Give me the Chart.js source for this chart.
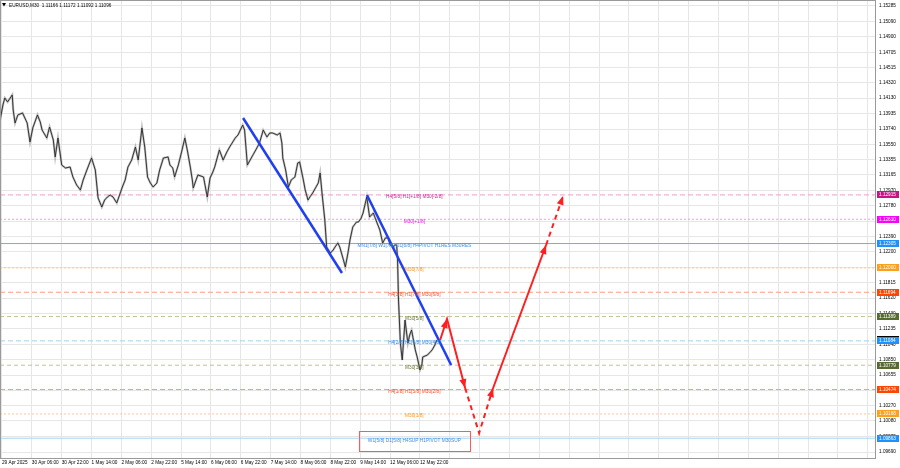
<!DOCTYPE html>
<html>
<head>
  <title>EURUSD,M30</title>
  <script src="https://cdn.jsdelivr.net/npm/chart.js"></script>
  <style>
    html, body { margin: 0; padding: 0; background: #fff; }
  </style>
</head>
<body>
<canvas id="priceChart" width="900" height="468"></canvas>
<script>
// time axis is in trading hours, 0 = 29 Apr 14:00
const timeTicks = [0, 16, 32, 48, 64, 80, 96, 112, 128, 144, 160, 176, 192, 208, 224];
const timeLabels = ['29 Apr 2025', '30 Apr 06:00', '30 Apr 22:00', '1 May 14:00', '2 May 06:00', '2 May 22:00',
  '5 May 14:00', '6 May 06:00', '6 May 22:00', '7 May 14:00', '8 May 06:00', '8 May 22:00',
  '9 May 14:00', '12 May 06:00', '12 May 22:00'];
const priceTicks = [1.15285, 1.15090, 1.14900, 1.14705, 1.14515, 1.14320, 1.14130, 1.13935, 1.13740, 1.13550,
  1.13355, 1.13165, 1.12970, 1.12780, 1.12585, 1.12390, 1.12200, 1.12005, 1.11815, 1.11620,
  1.11430, 1.11235, 1.11040, 1.10850, 1.10655, 1.10460, 1.10270, 1.10080, 1.09885, 1.09690];

const barHours = [
  -1, 0.5, 1.5, 3, 5.5, 6, 7, 8.5, 11, 13.5,
  15, 16.5, 19, 20.5, 21.5, 24, 25.5, 27.5, 28.5, 30,
  32, 34, 36.5, 38, 40, 42, 43.5, 45.5, 48, 50,
  51.5, 53.5, 55, 56.5, 58, 59.5, 61.5, 63, 64.5, 66,
  67.5, 69.5, 71.5, 73, 75, 76.5, 78, 79.5, 81, 83,
  84.5, 86.5, 89, 90, 91.5, 92.5, 94.5, 96.5, 98, 99.5,
  101, 102, 102.5, 104, 105, 108, 110, 111.5, 113, 114,
  116.5, 118.5, 120.5, 122, 125, 126.5, 128.5, 129, 130, 131.5,
  133, 134.5, 136, 138, 140, 142, 143.5, 145, 147.5, 149,
  150, 150.5, 152, 153.5, 155, 157, 158.5, 159.5, 161.5, 162.5,
  164, 165, 166.5, 169.5, 170.5, 171.5, 173, 174, 176, 177.5,
  178.5, 180, 181, 183, 184, 185.5, 186.5, 188, 190, 191,
  192.5, 193.5, 194.5, 195.5, 197, 199, 201, 202.5, 204, 205.5,
  207, 208, 209.5, 210.5, 211.5, 212, 212.5, 213.5, 214.5, 216,
  217.5, 218.5, 219.5, 220.5, 221.5, 222.5, 224, 225, 225.5, 228,
  229.5, 230.5, 232, 233];
const barClose = [
  1.13855, 1.14043, 1.14131, 1.14081, 1.14169, 1.13980, 1.13817, 1.13918, 1.13943, 1.13817,
  1.13579, 1.13755, 1.13918, 1.13830, 1.13729, 1.13629, 1.13767, 1.13604, 1.13391, 1.13629,
  1.13290, 1.13253, 1.13265, 1.13140, 1.13039, 1.12977, 1.13102, 1.13228, 1.13378, 1.13228,
  1.12876, 1.12763, 1.12851, 1.12889, 1.12914, 1.12889, 1.12814, 1.12914, 1.13014, 1.13102,
  1.13265, 1.13353, 1.13516, 1.13353, 1.13755, 1.13516, 1.13140, 1.13065, 1.13014, 1.13065,
  1.13228, 1.13378, 1.13391, 1.13290, 1.13253, 1.13140, 1.13290, 1.13479, 1.13629, 1.13453,
  1.13253, 1.13102, 1.13002, 1.13102, 1.13165, 1.13140, 1.12889, 1.13127, 1.13203, 1.13265,
  1.13479, 1.13353, 1.13453, 1.13516, 1.13629, 1.13667, 1.13767, 1.13792, 1.13729, 1.13290,
  1.13353, 1.13416, 1.13479, 1.13566, 1.13729, 1.13642, 1.13692, 1.13692, 1.13667, 1.13692,
  1.13566, 1.13378, 1.13228, 1.13014, 1.13102, 1.13140, 1.13315, 1.13328, 1.13102, 1.12977,
  1.12851, 1.12889, 1.12939, 1.13065, 1.13190, 1.12939, 1.12600, 1.12262, 1.12186, 1.12224,
  1.12262, 1.12312, 1.12262, 1.12099, 1.12011, 1.12199, 1.12350, 1.12513, 1.12575, 1.12575,
  1.12625, 1.12688, 1.12789, 1.12889, 1.12638, 1.12688, 1.12563, 1.12475, 1.12312, 1.12375,
  1.12375, 1.12287, 1.12262, 1.12287, 1.12287, 1.12099, 1.11597, 1.11057, 1.10844, 1.11346,
  1.11057, 1.11158, 1.11220, 1.11095, 1.10970, 1.10882, 1.10719, 1.10781, 1.10882, 1.10907,
  1.10944, 1.10970, 1.11032, 1.11096];

const levelPrices = [1.12915, 1.12610, 1.12305, 1.12000, 1.11694, 1.11389, 1.11084, 1.10779, 1.10474, 1.10168, 1.09863];
const levelNames = ['H4[5/8] H1[+1/8] M30[-2/8]', 'M30[+1/8]', 'MN1[7/8] W1[7/8] D1[6/8] H4PIVOT H1RES M30RES',
  'M30[7/8]', 'H4[3/8] H1[7/8] M30[6/8]', 'M30[5/8]', 'H4[2/8] H1[6/8] M30[4/8]', 'M30[3/8]',
  'H4[1/8] H1[5/8] M30[2/8]', 'M30[1/8]', 'W1[5/8] D1[5/8] H4SUP H1PIVOT M30SUP'];

const trend1Hours = [129.2, 182.2];
const trend1Prices = [1.13880, 1.11936];
const trend2Hours = [195.6, 240.7];
const trend2Prices = [1.12914, 1.10781];

const fcHours = [234.8, 238.5, 248.2, 255.7, 263.2, 291.6, 300.7];
const fcPrices = [1.11095, 1.11358, 1.10493, 1.09928, 1.10493, 1.12287, 1.12902];
const fcDashed = [false, false, true, true, false, true];
const fcArrow = [false, true, true, false, true, true, true];

const header = 'EURUSD,M30  1.11166 1.11172 1.11092 1.11096';
const lastPrice = 1.11096;

// styles for each level, same order as levelPrices
const levelStyle = [
  { line: '#f29ad0', dash: [5, 3], text: '#d0238f', box: '#c71585' },
  { line: '#f59af5', dash: [2, 2], text: '#f018f0', box: '#ff00ff' },
  { line: '#6aaef0', dash: [], text: '#3a8ee8', box: '#1e90ff' },
  { line: '#ffc590', dash: [2, 2], text: '#ff9a22', box: '#ff9f1c' },
  { line: '#ff9a80', dash: [5, 3], text: '#ff5022', box: '#ff4500' },
  { line: '#c2c290', dash: [4, 3], text: '#6b7a30', box: '#556b2f' },
  { line: '#9fd0f2', dash: [5, 3], text: '#2e8ae8', box: '#1e90ff' },
  { line: '#c2c290', dash: [4, 3], text: '#6b7a30', box: '#556b2f' },
  { line: '#ff9a80', dash: [5, 3], text: '#ff5022', box: '#ff4500' },
  { line: '#ffc590', dash: [2, 2], text: '#ff9a22', box: '#ff9f1c' },
  { line: '#a6d6f8', dash: [], text: '#3a8ee8', box: '#1e90ff' }
];

const X_MIN = -1.07, X_MAX = 468.4;
const FONT = '"Liberation Sans", Arial, sans-serif';
const pts = (xs, ys) => xs.map((v, i) => ({ x: v, y: ys[i] }));

const datasets = [];
levelPrices.forEach((p, i) => {
  datasets.push({
    data: [{ x: X_MIN, y: p }, { x: X_MAX, y: p }],
    borderColor: levelStyle[i].line,
    borderDash: levelStyle[i].dash,
    borderWidth: 1,
    pointRadius: 0,
    order: 10
  });
});
datasets.push({ data: pts(barHours, barClose), borderColor: 'rgba(150,150,150,0.6)', borderWidth: 2.2, pointRadius: 0, order: 6 });
datasets.push({ data: pts(barHours, barClose), borderColor: '#262626', borderWidth: 0.9, pointRadius: 0, order: 5 });
datasets.push({ data: pts(trend1Hours, trend1Prices), borderColor: '#1f3ff0', borderWidth: 2.5, pointRadius: 0, order: 2 });
datasets.push({ data: pts(trend2Hours, trend2Prices), borderColor: '#1f3ff0', borderWidth: 2.5, pointRadius: 0, order: 2 });
datasets.push({
  data: pts(fcHours, fcPrices), borderColor: '#ff1f1f', borderWidth: 2, pointRadius: 0, order: 1,
  segment: { borderDash: c => fcDashed[c.p0DataIndex] ? [5, 4] : [] }
});

const overlay = {
  id: 'overlay',
  afterDatasetsDraw(chart) {
    const { ctx, scales: { x, y } } = chart;
    ctx.save();
    // arrow heads on the forecast path
    ctx.fillStyle = '#ff1f1f';
    fcHours.forEach((h, i) => {
      if (!fcArrow[i]) return;
      const x1 = x.getPixelForValue(fcHours[i - 1]), y1 = y.getPixelForValue(fcPrices[i - 1]);
      const x2 = x.getPixelForValue(h), y2 = y.getPixelForValue(fcPrices[i]);
      const a = Math.atan2(y2 - y1, x2 - x1), L = 9, W = 3.5;
      ctx.beginPath();
      ctx.moveTo(x2, y2);
      ctx.lineTo(x2 - L * Math.cos(a) + W * Math.sin(a), y2 - L * Math.sin(a) - W * Math.cos(a));
      ctx.lineTo(x2 - L * Math.cos(a) - W * Math.sin(a), y2 - L * Math.sin(a) + W * Math.cos(a));
      ctx.closePath();
      ctx.fill();
    });
    // level names
    ctx.font = '4.8px ' + FONT;
    ctx.textAlign = 'center';
    ctx.textBaseline = 'middle';
    const cx = x.getPixelForValue(221);
    levelNames.forEach((name, i) => {
      const ly = y.getPixelForValue(levelPrices[i]);
      ctx.fillStyle = levelStyle[i].text;
      ctx.fillText(name, cx, ly + 2);
      if (i === levelNames.length - 1) {
        const w = ctx.measureText(name).width;
        ctx.strokeStyle = '#ff5a5a';
        ctx.lineWidth = 1;
        ctx.strokeRect(Math.round(cx - w / 2 - 9) + 0.5, Math.round(ly - 7) + 0.5, Math.round(w + 18), 20);
      }
    });
    ctx.restore();
  },
  afterDraw(chart) {
    const { ctx, chartArea: a, scales: { y } } = chart;
    ctx.save();
    ctx.strokeStyle = '#9a9a9a';
    ctx.lineWidth = 1;
    ctx.strokeRect(a.left + 0.5, a.top + 0.5, a.right - a.left - 1, a.bottom - a.top);
    // price boxes on the right axis
    ctx.font = '4.7px ' + FONT;
    ctx.textAlign = 'left';
    ctx.textBaseline = 'middle';
    const box = (p, bg) => {
      const by = y.getPixelForValue(p);
      ctx.fillStyle = bg;
      ctx.fillRect(a.right + 1, Math.round(by - 3.5), 22, 7);
      ctx.fillStyle = '#fff';
      ctx.fillText(p.toFixed(5), a.right + 3, by);
    };
    box(lastPrice, '#000');
    levelPrices.forEach((p, i) => box(p, levelStyle[i].box));
    // header
    ctx.fillStyle = '#000';
    ctx.beginPath();
    ctx.moveTo(2, 3); ctx.lineTo(6, 3); ctx.lineTo(4, 6.5); ctx.closePath(); ctx.fill();
    ctx.fillText(header, 9, 6);
    ctx.restore();
  }
};

new Chart(document.getElementById('priceChart'), {
  type: 'line',
  data: { datasets },
  plugins: [overlay],
  options: {
    responsive: false,
    devicePixelRatio: 1,
    animation: false,
    events: [],
    layout: { padding: 0 },
    plugins: { legend: { display: false }, tooltip: { enabled: false } },
    scales: {
      x: {
        type: 'linear',
        position: 'bottom',
        min: X_MIN,
        max: X_MAX,
        afterBuildTicks: s => {
          const t = [];
          for (let h = 0; h <= X_MAX; h += 16) t.push({ value: h });
          s.ticks = t;
        },
        afterFit: s => { s.height = 10; s.paddingLeft = 0; s.paddingRight = 0; },
        grid: { color: '#e6e6e6', drawTicks: false },
        border: { display: false },
        ticks: {
          autoSkip: false,
          maxRotation: 0,
          align: 'start',
          padding: 2,
          color: '#000',
          font: { family: FONT, size: 4.7 },
          callback: (v, i) => timeLabels[timeTicks.indexOf(v)] || ''
        }
      },
      y: {
        type: 'linear',
        position: 'right',
        min: 1.09615,
        max: 1.15360,
        afterBuildTicks: s => { s.ticks = priceTicks.map(v => ({ value: v })); },
        afterFit: s => { s.width = 24; s.paddingTop = 0; s.paddingBottom = 0; },
        grid: { color: '#e6e6e6', drawTicks: false },
        border: { display: false },
        ticks: {
          autoSkip: false,
          padding: 3,
          color: '#000',
          font: { family: FONT, size: 4.7 },
          callback: v => v.toFixed(5)
        }
      }
    }
  }
});
</script>
</body>
</html>
